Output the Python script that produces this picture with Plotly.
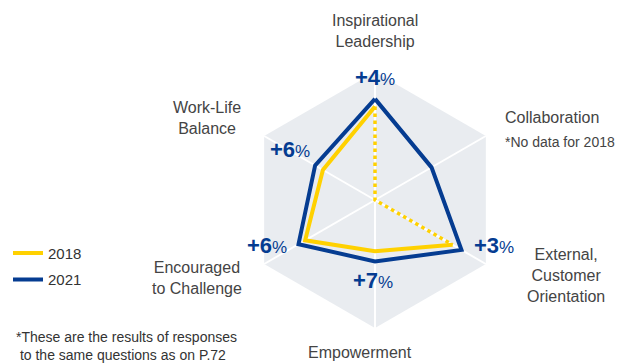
import plotly.graph_objects as go

# Data (radial scale 0-100)
categories = ["Inspirational Leadership", "Collaboration", "External, Customer Orientation",
              "Empowerment", "Encouraged to Challenge", "Work-Life Balance"]
values_2021 = [79, 51, 78, 48, 69, 54]
values_2018 = [73, None, 70, 40, 63, 47]
changes = ["+4", None, "+3", "+7", "+6", "+6"]

blue = "#053c91"
yellow = "#ffd100"
label_font = "Liberation Sans, Arial, sans-serif"
W, H = 623, 363
OFF = 8  # page body margin shifts the figure by 8px in the screenshot

# 2018 has no Collaboration value: solid line over the others, dotted through the centre
solid_theta = [categories[i] for i in [2, 3, 4, 5, 0]]
solid_r = [values_2018[i] for i in [2, 3, 4, 5, 0]]
dot_theta = [categories[0], categories[1], categories[2]]
dot_r = [values_2018[0], 0, values_2018[2]]

fig = go.Figure()
fig.add_trace(go.Scatterpolar(r=dot_r, theta=dot_theta, mode="lines", showlegend=False,
                              line=dict(color=yellow, width=3.5, dash="dot")))
fig.add_trace(go.Scatterpolar(r=solid_r, theta=solid_theta, mode="lines", name="2018",
                              legendgroup="a", line=dict(color=yellow, width=4)))
fig.add_trace(go.Scatterpolar(r=values_2021 + [values_2021[0]], theta=categories + [categories[0]],
                              mode="lines", name="2021", legendgroup="b",
                              line=dict(color=blue, width=4)))

cx, cy, rad = 375 - OFF, 200 - OFF, 128
fig.update_layout(
    width=W, height=H,
    margin=dict(l=0, r=0, t=0, b=0),
    paper_bgcolor="white",
    font=dict(family=label_font, color="#444444", size=14),
    polar=dict(
        domain=dict(x=[(cx - rad) / W, (cx + rad) / W],
                    y=[(H - cy - rad) / H, (H - cy + rad) / H]),
        gridshape="linear",
        bgcolor="#e9ecf0",
        radialaxis=dict(visible=False, range=[0, 100]),
        angularaxis=dict(categoryorder="array", categoryarray=categories,
                         direction="clockwise", rotation=90,
                         showticklabels=False, ticks="", showline=False,
                         gridcolor="white", gridwidth=2),
    ),
    legend=dict(x=0.0, y=0.37, xanchor="left", yanchor="top", tracegroupgap=4,
                font=dict(size=15, color="#333333"), bgcolor="rgba(0,0,0,0)"),
)


def note(x, y, text, size, color="#444444", xanchor="center", align="center"):
    fig.add_annotation(x=(x - OFF) / W, y=1 - (y - OFF) / H, xref="paper", yref="paper",
                       text=text, xanchor=xanchor, yanchor="middle", align=align,
                       showarrow=False, font=dict(size=size, color=color))


# Category labels
cat_pos = [(375, 31, "Inspirational<br>Leadership"),
           (552, 118, "Collaboration"),
           (566, 275, "External,<br>Customer<br>Orientation"),
           (360, 352, "Empowerment"),
           (197, 278, "Encouraged<br>to Challenge"),
           (207, 118, "Work-Life<br>Balance")]
for x, y, t in cat_pos:
    note(x, y, t, 16)
note(560, 142, "*No data for 2018", 14)

# Change labels
chg_pos = [(375, 78), None, (494, 245), (373, 280), (267, 245), (290, 149)]
for c, p in zip(changes, chg_pos):
    if c is None:
        continue
    note(p[0], p[1], "<b>" + c + "</b><span style='font-size:17px'>%</span>", 22, color=blue)

note(14, 346, "*These are the results of responses<br> to the same questions as on P.72", 14,
     color="#333333", xanchor="left", align="left")

fig.write_html("out.html")
